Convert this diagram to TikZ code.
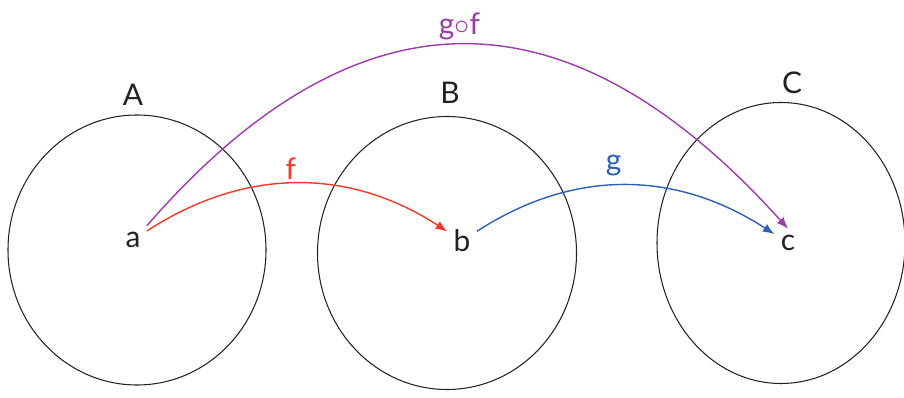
\documentclass[tikz,border=0pt]{standalone}
\usepackage{fontspec}
\setmainfont{Lato}
\usetikzlibrary{positioning,arrows.meta,shapes.geometric}
\definecolor{cSet}{HTML}{222222}
\definecolor{cF}{HTML}{F23A2A}
\definecolor{cG}{HTML}{2E5FB8}
\definecolor{cGF}{HTML}{9A3DA6}

\begin{document}
\begin{tikzpicture}[
  font=\fontsize{17}{20}\selectfont,
  >={Latex[length=2.3mm,width=1.8mm]},
  set/.style={ellipse,draw=cSet,line width=0.6pt,inner sep=0pt},
  setlbl/.style={text=cSet,inner sep=2pt},
  elem/.style={text=cSet,inner sep=3.5pt},
  map/.style={->,line width=0.8pt},
  maplbl/.style={inner sep=1pt},
]
\useasboundingbox (0,0) rectangle (18.08,7.94);

% ---------- SETS ----------
\node[set,minimum width=5.16cm,minimum height=5.4cm] (setA) at (2.74,2.94) {};
\node[set,minimum width=5.18cm,minimum height=5.46cm] (setB) at (8.94,2.88) {};
\node[set,minimum width=4.96cm,minimum height=5.62cm] (setC) at (15.62,3.08) {};
\node[setlbl] (lblA) at (2.66,6.04) {A};
\node[setlbl] (lblB) at (9.0,6.08) {B};
\node[setlbl] (lblC) at (15.84,6.28) {C};

% ---------- ELEMENTS ----------
\node[elem] (a) at (2.66,3.14) {a};
\node[elem] (b) at (9.24,3.12) {b};
\node[elem] (c) at (15.76,3.08) {c};

% ---------- MAPS ----------
\draw[map,cF] (a) to[out=33,in=147]
  node[maplbl,pos=0.48,above=1pt,text=cF] (lblf) {f} (b);
\draw[map,cG] (b) to[out=33,in=147]
  node[maplbl,pos=0.46,above=4pt,text=cG] (lblg) {g} (c);
\draw[map,cGF] (a.north east) .. controls +(49:6.5) and +(132:6.5) .. (c.north)
  node[maplbl,pos=0.49,above=1pt,text=cGF] (lblgf) {g$\circ$f};

\end{tikzpicture}
\end{document}
